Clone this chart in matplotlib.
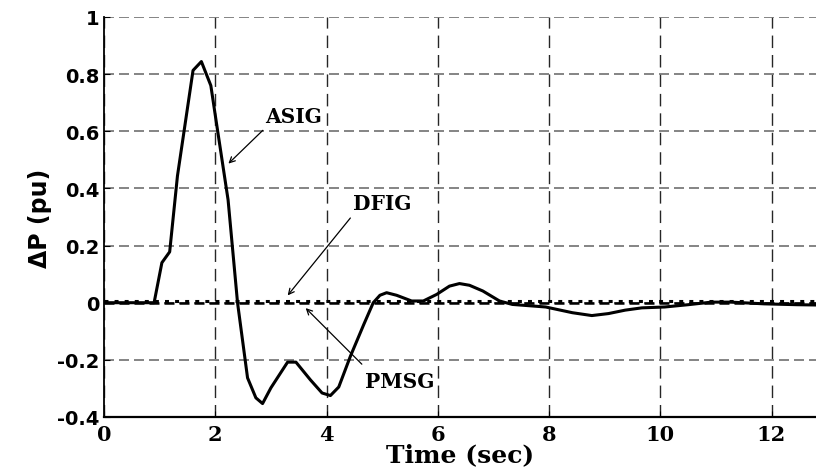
import numpy as np
import matplotlib.pyplot as plt

# ASIG response
t_asig = [0, 0.9, 1.04, 1.18, 1.32, 1.60, 1.75, 1.92, 2.02, 2.23, 2.40, 2.58, 2.73,
          2.85, 3.0, 3.30, 3.45, 3.71, 3.92, 4.07, 4.22, 4.43, 4.67, 4.84, 4.96,
          5.08, 5.26, 5.53, 5.74, 5.98, 6.21, 6.39, 6.57, 6.81, 7.11, 7.34, 7.94,
          8.42, 8.77, 9.07, 9.37, 9.67, 10.08, 10.5, 10.92, 11.27, 11.87, 12.46, 12.8]
p_asig = [0, 0, 0.14, 0.178, 0.444, 0.813, 0.844, 0.76, 0.63, 0.36, 0.0, -0.263, -0.333,
          -0.353, -0.298, -0.208, -0.208, -0.27, -0.316, -0.325, -0.295, -0.187, -0.076, 0.0, 0.026,
          0.035, 0.026, 0.006, 0.006, 0.029, 0.058, 0.067, 0.061, 0.041, 0.006, -0.006, -0.015,
          -0.035, -0.045, -0.038, -0.026, -0.018, -0.015, -0.007, 0.002, 0.002, -0.004, -0.007, -0.008]

t_flat = [0, 12.8]
p_dfig = [0.006, 0.006]
p_pmsg = [0, 0]

fig = plt.figure(figsize=(8.16, 4.77), dpi=100)
ax = fig.add_axes([0.1275, 0.1237, 0.8725, 0.8386])

ax.plot(t_flat, p_pmsg, 'k', ls=(0, (4, 2)), lw=1.8)
ax.plot(t_flat, p_dfig, 'k', ls=(0, (1.3, 2.0)), lw=2.2)
ax.plot(t_asig, p_asig, 'k-', lw=2.2)

ax.set_xlim(0, 12.8)
ax.set_ylim(-0.4, 1)
ax.set_xticks(np.arange(0, 13, 2))
ax.set_yticks(np.arange(-0.4, 1.01, 0.2))
ax.set_yticklabels(['-0.4', '-0.2', '0', '0.2', '0.4', '0.6', '0.8', '1'])

ax.grid(axis='x', color='k', ls=(0, (9, 5)), lw=1.0, alpha=0.85)
ax.grid(axis='y', color='#707070', ls=(0, (6, 3)), lw=1.2)
ax.spines['top'].set_visible(False)
ax.spines['right'].set_visible(False)
ax.spines['left'].set_linewidth(1.3)
ax.spines['bottom'].set_linewidth(1.6)
ax.tick_params(direction='in', length=4)
ax.tick_params(axis='x', pad=5)
ax.tick_params(axis='y', pad=3)

for lab in ax.get_yticklabels():
    lab.set_fontfamily('DejaVu Sans')
    lab.set_fontweight('bold')
    lab.set_fontsize(14)
for lab in ax.get_xticklabels():
    lab.set_fontfamily('DejaVu Serif')
    lab.set_fontweight('bold')
    lab.set_fontsize(15)

ax.set_xlabel('Time (sec)', family='DejaVu Serif', weight='bold', fontsize=18, labelpad=-1)
ax.set_ylabel('ΔP (pu)', family='DejaVu Sans', weight='bold', fontsize=17, labelpad=4)

arrow = dict(arrowstyle='->', color='k', lw=0.9)
txt = dict(family='DejaVu Serif', weight='bold', fontsize=14.5, va='center', ha='left')
ax.text(2.9, 0.655, 'ASIG', **txt)
ax.annotate('', xy=(2.20, 0.48), xytext=(2.89, 0.61), arrowprops=arrow)
ax.text(4.48, 0.35, 'DFIG', **txt)
ax.annotate('', xy=(3.27, 0.018), xytext=(4.46, 0.304), arrowprops=arrow)
ax.text(4.70, -0.275, 'PMSG', **txt)
ax.annotate('', xy=(3.59, -0.012), xytext=(4.67, -0.222), arrowprops=arrow)

# title cut off at the top of the figure, only its lowest pixels show
fig.text(0.609, 1.011, '(pu)', family='DejaVu Serif', weight='bold', fontsize=16,
         ha='center', va='baseline')

fig.savefig('out.png', dpi=100)
